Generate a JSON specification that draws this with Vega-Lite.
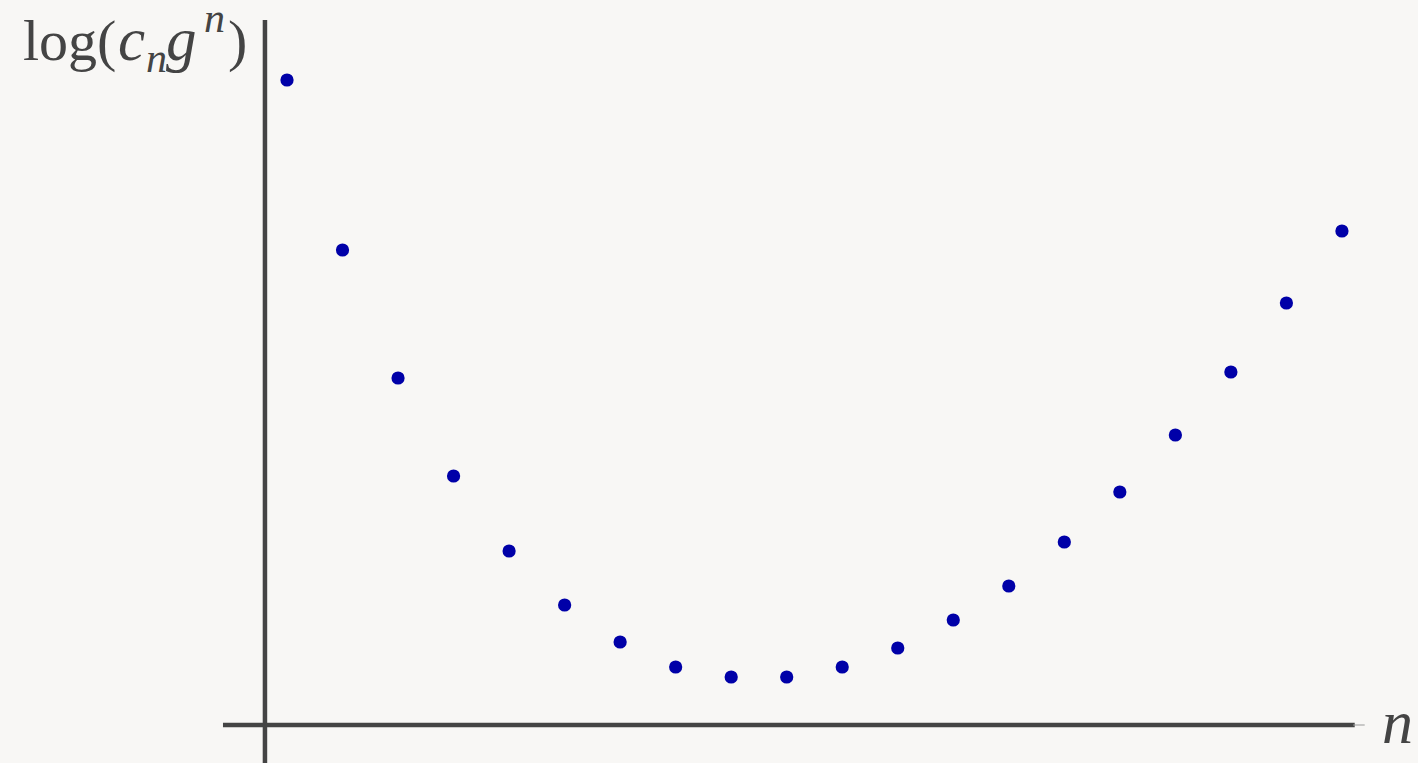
{
  "$schema": "https://vega.github.io/schema/vega-lite/v6.json",
  "width": 1418,
  "height": 763,
  "padding": 0,
  "autosize": {"type": "none"},
  "background": "#f8f7f5",
  "config": {"view": {"stroke": null}},
  "encoding": {
    "x": {"scale": {"domain": [-4.169, 21.37], "nice": false, "zero": false}, "axis": null},
    "y": {"scale": {"domain": [-38, 725], "nice": false, "zero": false}, "axis": null}
  },
  "layer": [
    {
      "data": {"values": [{}]},
      "mark": {"type": "rule", "color": "#444444", "strokeWidth": 4.5},
      "encoding": {
        "x": {"datum": 0.603, "type": "quantitative"},
        "y": {"datum": 705, "type": "quantitative"},
        "y2": {"datum": -38}
      }
    },
    {
      "data": {"values": [{}]},
      "mark": {"type": "rule", "color": "#444444", "strokeWidth": 4.5},
      "encoding": {
        "y": {"datum": 0, "type": "quantitative"},
        "x": {"datum": -0.153, "type": "quantitative"},
        "x2": {"datum": 20.23}
      }
    },
    {
      "data": {"values": [{}]},
      "mark": {"type": "rule", "color": "#999999", "strokeWidth": 1},
      "encoding": {
        "y": {"datum": 0, "type": "quantitative"},
        "x": {"datum": 20.2, "type": "quantitative"},
        "x2": {"datum": 20.41}
      }
    },
    {
      "data": {"values": [
        {"n": 1, "v": 645}, {"n": 2, "v": 475}, {"n": 3, "v": 347}, {"n": 4, "v": 249},
        {"n": 5, "v": 174}, {"n": 6, "v": 120}, {"n": 7, "v": 83}, {"n": 8, "v": 58},
        {"n": 9, "v": 48}, {"n": 10, "v": 48}, {"n": 11, "v": 58}, {"n": 12, "v": 77},
        {"n": 13, "v": 105}, {"n": 14, "v": 139}, {"n": 15, "v": 183}, {"n": 16, "v": 233},
        {"n": 17, "v": 290}, {"n": 18, "v": 353}, {"n": 19, "v": 422}, {"n": 20, "v": 494}
      ]},
      "mark": {"type": "point", "filled": true, "opacity": 1, "color": "#0000a8", "size": 175, "shape": "circle"},
      "encoding": {
        "x": {"field": "n", "type": "quantitative"},
        "y": {"field": "v", "type": "quantitative"}
      }
    },
    {
      "data": {"values": [{}]},
      "mark": {"type": "text", "text": "log(", "font": "Liberation Serif", "fontSize": 58, "align": "left", "baseline": "alphabetic", "color": "#444444"},
      "encoding": {"x": {"datum": -3.755, "type": "quantitative"}, "y": {"datum": 665, "type": "quantitative"}}
    },
    {
      "data": {"values": [{}]},
      "mark": {"type": "text", "text": "c", "font": "Liberation Serif", "fontStyle": "italic", "fontSize": 61, "align": "left", "baseline": "alphabetic", "color": "#444444"},
      "encoding": {"x": {"datum": -2.044, "type": "quantitative"}, "y": {"datum": 665, "type": "quantitative"}}
    },
    {
      "data": {"values": [{}]},
      "mark": {"type": "text", "text": "n", "font": "Liberation Serif", "fontStyle": "italic", "fontSize": 42, "align": "left", "baseline": "alphabetic", "color": "#444444"},
      "encoding": {"x": {"datum": -1.54, "type": "quantitative"}, "y": {"datum": 653, "type": "quantitative"}}
    },
    {
      "data": {"values": [{}]},
      "mark": {"type": "text", "text": "g", "font": "Liberation Serif", "fontStyle": "italic", "fontSize": 61, "align": "left", "baseline": "alphabetic", "color": "#444444"},
      "encoding": {"x": {"datum": -1.18, "type": "quantitative"}, "y": {"datum": 665, "type": "quantitative"}}
    },
    {
      "data": {"values": [{}]},
      "mark": {"type": "text", "text": "n", "font": "Liberation Serif", "fontStyle": "italic", "fontSize": 42, "align": "left", "baseline": "alphabetic", "color": "#444444"},
      "encoding": {"x": {"datum": -0.495, "type": "quantitative"}, "y": {"datum": 693, "type": "quantitative"}}
    },
    {
      "data": {"values": [{}]},
      "mark": {"type": "text", "text": ")", "font": "Liberation Serif", "fontSize": 58, "align": "left", "baseline": "alphabetic", "color": "#444444"},
      "encoding": {"x": {"datum": -0.063, "type": "quantitative"}, "y": {"datum": 665, "type": "quantitative"}}
    },
    {
      "data": {"values": [{}]},
      "mark": {"type": "text", "text": "n", "font": "Liberation Serif", "fontStyle": "italic", "fontSize": 62, "align": "left", "baseline": "alphabetic", "color": "#444444"},
      "encoding": {"x": {"datum": 20.72, "type": "quantitative"}, "y": {"datum": -18, "type": "quantitative"}}
    }
  ]
}
